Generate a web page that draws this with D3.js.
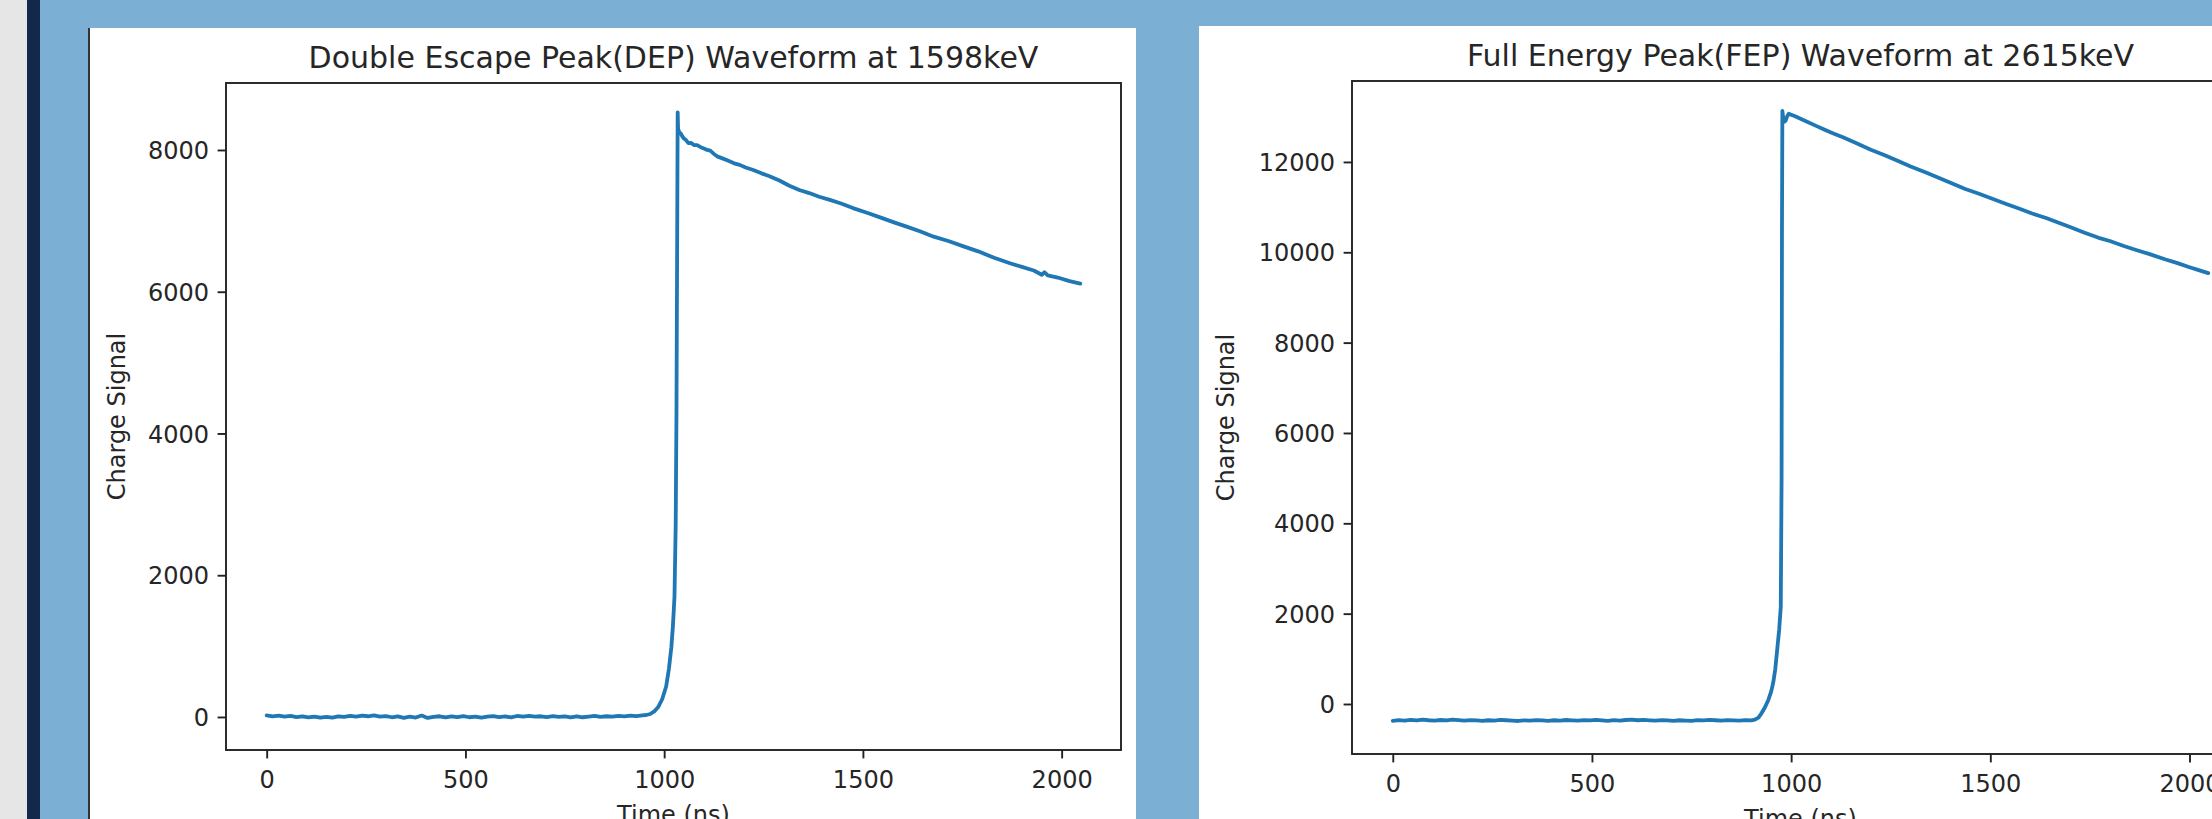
<!DOCTYPE html>
<html>
<head>
<meta charset="utf-8">
<script src="https://cdn.jsdelivr.net/npm/d3@7"></script>
<style>
  html, body { margin: 0; padding: 0; overflow: hidden; background: #7bafd4; }
  svg { display: block; }
  .axis text { font-family: "DejaVu Sans", sans-serif; font-size: 24px; fill: #262626; }
  .axis line { stroke: #222; stroke-width: 1.9; }
  .axis .domain { display: none; }
  .frame { fill: none; stroke: #222; stroke-width: 1.9; }
  .title { font-family: "DejaVu Sans", sans-serif; font-size: 30px; fill: #262626; text-anchor: middle; }
  .label { font-family: "DejaVu Sans", sans-serif; font-size: 24px; fill: #262626; text-anchor: middle; }
  .trace { fill: none; stroke: #1f77b4; stroke-width: 3.8; stroke-linejoin: round; stroke-linecap: round; }
</style>
</head>
<body>
<div id="chart"></div>
<script>
const d3 = window.d3;

// Values: [time (ns), charge signal].
const depTrace = [
  [0, 22], [15, 8], [30, 18], [45, 4], [60, 14], [75, -2], [90, 10], [105, -6], [120, 6], [135, -10],
  [150, 2], [165, -8], [180, 8], [195, 0], [210, 14], [225, 4], [240, 18], [255, 10], [270, 22], [285, 6],
  [300, 12], [315, -4], [330, 8], [345, -12], [360, 4], [375, -8], [390, 20], [405, -14], [420, 2], [435, 10],
  [450, -6], [465, 8], [480, -2], [495, 12], [510, -4], [525, 6], [540, -10], [555, 4], [570, 12], [585, -2],
  [600, 8], [615, -6], [630, 14], [645, 4], [660, 16], [675, 6], [690, 10], [705, -2], [720, 12], [735, 0],
  [750, 8], [765, -6], [780, 10], [795, -4], [810, 6], [825, 14], [840, 2], [855, 10], [870, 4], [885, 16],
  [900, 8], [915, 18], [930, 12], [945, 24], [955, 28],
  [965, 42], [975, 78], [985, 140], [995, 250], [1005, 430], [1012, 680], [1018, 980], [1022, 1280],
  [1026, 1700], [1029, 2700], [1031, 4300], [1033, 7100], [1034, 8530], [1035, 8300], [1038, 8250],
  [1042, 8230], [1046, 8190], [1050, 8160], [1055, 8140], [1061, 8096], [1068, 8100], [1075, 8070],
  [1083, 8068], [1092, 8040], [1100, 8020], [1108, 8000], [1116, 7990], [1125, 7945], [1133, 7910],
  [1145, 7885], [1160, 7850], [1176, 7812], [1190, 7790], [1205, 7752], [1224, 7718], [1245, 7670],
  [1265, 7630], [1290, 7570], [1315, 7495], [1340, 7436], [1365, 7392], [1390, 7340], [1417, 7295],
  [1445, 7245], [1475, 7180], [1514, 7107], [1545, 7045], [1580, 6975], [1610, 6918], [1645, 6850],
  [1678, 6777], [1715, 6715], [1755, 6636], [1790, 6570], [1830, 6480], [1870, 6401], [1900, 6350],
  [1930, 6300], [1950, 6240], [1957, 6275], [1965, 6230], [1990, 6200], [2020, 6150], [2047, 6115]
];

const fepTrace = [
  [0, -372], [15, -358], [30, -366], [45, -350], [60, -362], [75, -346], [90, -360], [105, -368], [120, -354],
  [135, -364], [150, -348], [165, -358], [180, -370], [195, -356], [210, -362], [225, -374], [240, -360],
  [255, -366], [270, -352], [285, -360], [300, -368], [315, -376], [330, -362], [345, -370], [360, -356],
  [375, -364], [390, -372], [405, -360], [420, -368], [435, -354], [450, -362], [465, -370], [480, -358],
  [495, -364], [510, -350], [525, -362], [540, -372], [555, -358], [570, -366], [585, -354], [600, -348],
  [615, -360], [630, -352], [645, -362], [660, -370], [675, -356], [690, -364], [705, -374], [720, -360],
  [735, -366], [750, -372], [765, -358], [780, -364], [795, -352], [810, -360], [825, -368], [840, -356],
  [855, -362], [870, -370], [885, -358], [900, -364],
  [909, -345], [918, -300], [926, -200], [935, -60], [943, 95], [950, 280], [955, 472], [960, 760],
  [965, 1200], [970, 1650], [974, 2150], [976, 5000], [977, 10500], [978, 13130], [980, 12980],
  [983, 12890], [986, 12910], [990, 13010], [994, 13067], [1000, 13045], [1010, 13010], [1025, 12950],
  [1040, 12890], [1060, 12810], [1080, 12730], [1103, 12640], [1130, 12545], [1160, 12430], [1200, 12270],
  [1235, 12150], [1270, 12013], [1300, 11900], [1340, 11760], [1370, 11650], [1400, 11540], [1437, 11400],
  [1470, 11300], [1500, 11200], [1540, 11070], [1570, 10975], [1605, 10860], [1640, 10760], [1670, 10660],
  [1700, 10560], [1735, 10440], [1772, 10320], [1800, 10250], [1835, 10140], [1870, 10040], [1900, 9960],
  [1940, 9840], [1970, 9760], [2000, 9670], [2025, 9600], [2047, 9540]
];

const titles = ['Double Escape Peak(DEP) Waveform at 1598keV', 'Full Energy Peak(FEP) Waveform at 2615keV'];
const xLabel = 'Time (ns)';
const yLabel = 'Charge Signal';
const xTicks = [0, 500, 1000, 1500, 2000];
const depYTicks = [0, 2000, 4000, 6000, 8000];
const fepYTicks = [0, 2000, 4000, 6000, 8000, 10000, 12000];
const xLimits = [-102.35, 2149.35];
const depYLimits = [-466, 8945];
const fepYLimits = [-1107, 13792];

const W = 2212, H = 819;

const svg = d3.select('#chart').append('svg')
  .attr('width', W).attr('height', H).attr('viewBox', `0 0 ${W} ${H}`);

// Page backdrop: grey strip, navy bar, blue slide, white figure panels.
svg.append('rect').attr('x', 0).attr('y', 0).attr('width', 27).attr('height', H).attr('fill', '#e6e6e6');
svg.append('rect').attr('x', 27).attr('y', 0).attr('width', 13).attr('height', H).attr('fill', '#13284a');
svg.append('rect').attr('x', 40).attr('y', 0).attr('width', W - 40).attr('height', H).attr('fill', '#7bafd4');
svg.append('rect').attr('x', 88).attr('y', 28).attr('width', 1048).attr('height', H).attr('fill', '#fff');
svg.append('line').attr('x1', 89).attr('x2', 89).attr('y1', 28).attr('y2', H)
  .attr('stroke', '#333').attr('stroke-width', 2);
svg.append('rect').attr('x', 1199).attr('y', 26).attr('width', W - 1199).attr('height', H).attr('fill', '#fff');

const panels = [
  { id: 'dep', title: titles[0], trace: depTrace, yTicks: depYTicks, yLimits: depYLimits,
    box: { left: 226, top: 83, right: 1121, bottom: 750 }, labelX: 125 },
  { id: 'fep', title: titles[1], trace: fepTrace, yTicks: fepYTicks, yLimits: fepYLimits,
    box: { left: 1352, top: 81, right: 2249, bottom: 754 }, labelX: 1234 },
];

for (const p of panels) {
  const b = p.box;
  const x = d3.scaleLinear().domain(xLimits).range([b.left, b.right]);
  const y = d3.scaleLinear().domain(p.yLimits).range([b.bottom, b.top]);

  svg.append('clipPath').attr('id', `clip-${p.id}`)
    .append('rect').attr('x', b.left).attr('y', b.top)
    .attr('width', b.right - b.left).attr('height', b.bottom - b.top);

  const line = d3.line().x((d) => x(d[0])).y((d) => y(d[1]));
  svg.append('path').datum(p.trace)
    .attr('class', 'trace')
    .attr('clip-path', `url(#clip-${p.id})`)
    .attr('d', line);

  svg.append('rect').attr('class', 'frame')
    .attr('x', b.left).attr('y', b.top)
    .attr('width', b.right - b.left).attr('height', b.bottom - b.top);

  const gx = svg.append('g').attr('class', 'axis')
    .attr('transform', `translate(0,${b.bottom})`)
    .call(d3.axisBottom(x).tickValues(xTicks).tickSize(8.4).tickPadding(13).tickFormat(d3.format('d')));
  gx.attr('font-size', null).attr('font-family', null);
  gx.selectAll('text').attr('dy', '0.71em');

  const gy = svg.append('g').attr('class', 'axis')
    .attr('transform', `translate(${b.left},0)`)
    .call(d3.axisLeft(y).tickValues(p.yTicks).tickSize(8.4).tickPadding(8.6).tickFormat(d3.format('d')));
  gy.attr('font-size', null).attr('font-family', null);
  gy.selectAll('text').attr('dy', '0.36em');

  svg.append('text').attr('class', 'title')
    .attr('x', (b.left + b.right) / 2).attr('y', b.top - 15)
    .text(p.title);

  svg.append('text').attr('class', 'label')
    .attr('x', (b.left + b.right) / 2).attr('y', b.bottom + 73)
    .text(xLabel);

  svg.append('text').attr('class', 'label')
    .attr('transform', `translate(${p.labelX},${(b.top + b.bottom) / 2}) rotate(-90)`)
    .text(yLabel);
}
</script>
</body>
</html>
